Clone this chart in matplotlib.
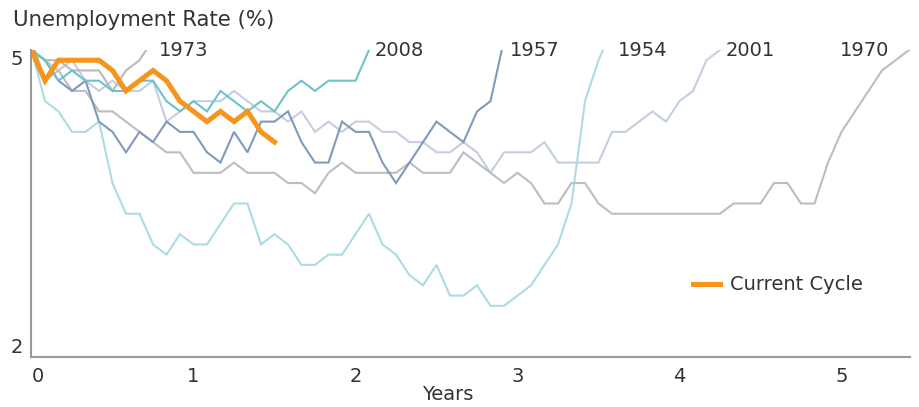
import numpy as np
import matplotlib.pyplot as plt

plt.rcParams['font.family'] = ['DejaVu Sans']

# monthly unemployment rate (%) from the month the rate fell to 5% until it got back there
cycle_1954 = [5.0, 4.5, 4.4, 4.2, 4.2, 4.3, 3.7, 3.4, 3.4, 3.1, 3.0, 3.2, 3.1, 3.1, 3.3,
              3.5, 3.5, 3.1, 3.2, 3.1, 2.9, 2.9, 3.0, 3.0, 3.2, 3.4, 3.1, 3.0, 2.8, 2.7,
              2.9, 2.6, 2.6, 2.7, 2.5, 2.5, 2.6, 2.7, 2.9, 3.1, 3.5, 4.5, 4.9, 5.2]
cycle_1957 = [5.0, 4.9, 4.7, 4.6, 4.7, 4.3, 4.2, 4.0, 4.2, 4.1, 4.3, 4.2, 4.2, 4.0, 3.9,
              4.2, 4.0, 4.3, 4.3, 4.4, 4.1, 3.9, 3.9, 4.3, 4.2, 4.2, 3.9, 3.7, 3.9, 4.1,
              4.3, 4.2, 4.1, 4.4, 4.5, 5.1]
cycle_1970 = [5.1, 4.7, 4.8, 4.6, 4.6, 4.4, 4.4, 4.3, 4.2, 4.1, 4.0, 4.0, 3.8, 3.8, 3.8,
              3.9, 3.8, 3.8, 3.8, 3.7, 3.7, 3.6, 3.8, 3.9, 3.8, 3.8, 3.8, 3.8, 3.9, 3.8,
              3.8, 3.8, 4.0, 3.9, 3.8, 3.7, 3.8, 3.7, 3.5, 3.5, 3.7, 3.7, 3.5, 3.4, 3.4,
              3.4, 3.4, 3.4, 3.4, 3.4, 3.4, 3.4, 3.5, 3.5, 3.5, 3.7, 3.7, 3.5, 3.5, 3.9,
              4.2, 4.4, 4.6, 4.8, 4.9, 5.0]
cycle_1973 = [5.0, 4.9, 4.9, 4.8, 4.8, 4.8, 4.6, 4.8, 4.9, 5.1]
cycle_2001 = [5.0, 4.9, 4.8, 4.9, 4.7, 4.6, 4.7, 4.6, 4.6, 4.7, 4.3, 4.4, 4.5, 4.5, 4.5,
              4.6, 4.5, 4.4, 4.4, 4.3, 4.4, 4.2, 4.3, 4.2, 4.3, 4.3, 4.2, 4.2, 4.1, 4.1,
              4.0, 4.0, 4.1, 4.0, 3.8, 4.0, 4.0, 4.0, 4.1, 3.9, 3.9, 3.9, 3.9, 4.2, 4.2,
              4.3, 4.4, 4.3, 4.5, 4.6, 4.9, 5.0]
cycle_2008 = [5.0, 4.9, 4.7, 4.8, 4.7, 4.7, 4.6, 4.6, 4.7, 4.7, 4.5, 4.4, 4.5, 4.4, 4.6,
              4.5, 4.4, 4.5, 4.4, 4.6, 4.7, 4.6, 4.7, 4.7, 4.7, 5.0]
current = [5.0, 4.7, 4.9, 4.9, 4.9, 4.9, 4.8, 4.6, 4.7, 4.8, 4.7, 4.5, 4.4, 4.3, 4.4,
           4.3, 4.4, 4.2, 4.1]

cycles = [('1954', cycle_1954, '#acdce3', 'right'),
          ('2001', cycle_2001, '#c3cee0', 'right'),
          ('1970', cycle_1970, '#bdbdbd', 'left'),
          ('1973', cycle_1973, '#b9b9b9', 'right'),
          ('1957', cycle_1957, '#7f9abd', 'right'),
          ('2008', cycle_2008, '#6fc2c8', 'right')]

txt = '#333333'
fig = plt.figure(figsize=(9.2, 4.07), dpi=100)
ax = fig.add_axes([31.5/920, 50/407, (910-31.5)/920, 307/407])

for name, vals, col, side in cycles:
    t = np.arange(len(vals)) / 12.
    ax.plot(t, vals, color=col, lw=1.5, solid_joinstyle='miter')
    if side == 'right':
        ax.annotate(name, (t[-1], 5), xytext=(4, 0), textcoords='offset points',
                    ha='left', va='center', fontsize=14, color=txt, annotation_clip=False)
    else:
        ax.annotate(name, (t[-1], 5), xytext=(-14, 0), textcoords='offset points',
                    ha='right', va='center', fontsize=14, color=txt, annotation_clip=False)

t = np.arange(len(current)) / 12.
ax.plot(t, current, color='#f7941d', lw=3.6, solid_joinstyle='miter', label='Current Cycle')

ax.set_xlim(0, (910-31.5)/162.)
ax.set_ylim(2, 5)
ax.set_xticks([0, 1, 2, 3, 4, 5])
ax.set_yticks([2, 5])
ax.tick_params(axis='x', length=0, labelsize=14, labelcolor=txt, pad=7)
ax.tick_params(axis='y', length=0, labelsize=14, labelcolor=txt, pad=6)
xl = ax.get_xticklabels()
xl[0].set_ha('left')
yl = ax.get_yticklabels()
yl[0].set_va('bottom')
yl[1].set_va('top')
ax.set_xlabel('Years', fontsize=14, color=txt, labelpad=0)
ax.xaxis.set_label_coords((448-31.5)/878.5, -0.09)

for s in ['top', 'right']:
    ax.spines[s].set_visible(False)
for s in ['left', 'bottom']:
    ax.spines[s].set_color('#9a9a9a')
    ax.spines[s].set_linewidth(1.5)

leg = ax.legend(loc='center left', bbox_to_anchor=((693-31.5)/878.5, (357-285)/307.),
                frameon=False, fontsize=14, handlelength=1.4, handletextpad=0.5,
                borderpad=0, borderaxespad=0)
for text in leg.get_texts():
    text.set_color(txt)

fig.text(13/920, 1 - 20/407, 'Unemployment Rate (%)', fontsize=15.3, color=txt,
         ha='left', va='center')

fig.savefig('out.png', dpi=100)
